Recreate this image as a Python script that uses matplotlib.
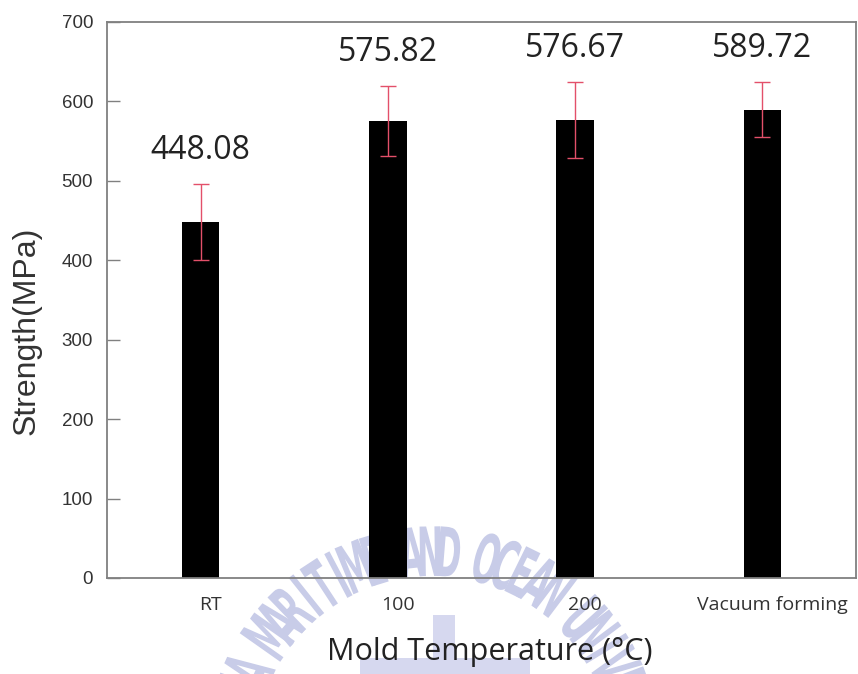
import numpy as np
import matplotlib
matplotlib.use("Agg")
import matplotlib.pyplot as plt
from matplotlib.font_manager import FontProperties
from matplotlib.patches import PathPatch, Rectangle
from matplotlib.textpath import TextPath
from matplotlib.transforms import Affine2D, ScaledTranslation

# data
categories = ["RT", "100", "200", "Vacuum forming"]
strength = [448.08, 575.82, 576.67, 589.72]
strength_err = [48, 44, 48, 35]
yticks = [0, 100, 200, 300, 400, 500, 600, 700]

watermark_text = "KOREA MARITIME AND OCEAN UNIVERSITY"
WM_COLOR = "#c8cce8"

W, H = 858, 674
fig = plt.figure(figsize=(W / 100, H / 100), dpi=100)
ax = fig.add_axes([107 / W, (H - 578) / H, (856 - 107) / W, (578 - 22) / H])
ax.patch.set_alpha(0)


def watermark():
    """Faint university seal text drawn behind the plot (pixel geometry)."""
    prop = FontProperties(family="DejaVu Sans", weight="semibold")
    cx, cy, r = 433, H - 754, 203
    for i, ch in enumerate(watermark_text):
        if ch == " ":
            continue
        theta = (i - 16.15) * 5.4
        tp = TextPath((0, 0), ch, size=68, prop=prop)
        bb = tp.get_extents()
        t = np.radians(theta)
        tr = (Affine2D()
              .translate(-(bb.x0 + bb.x1) / 2, -25)
              .scale(0.46, 1.0)
              .rotate_deg(-theta)
              .translate(cx + r * np.sin(t), cy + r * np.cos(t))
              .scale(0.01))
        p = PathPatch(tr.transform_path(tp), transform=fig.dpi_scale_trans,
                      facecolor=WM_COLOR, edgecolor="none", zorder=-5)
        fig.add_artist(p)
    # rough logo blocks under the arc
    for x0, y0, x1, y1 in [(433, 615, 455, 674), (360, 658, 530, 674)]:
        fig.add_artist(Rectangle((x0 / 100, (H - y1) / 100), (x1 - x0) / 100, (y1 - y0) / 100,
                                 transform=fig.dpi_scale_trans, facecolor="#d6d8ef",
                                 edgecolor="none", zorder=-5))


watermark()

x = np.arange(len(categories))
ax.bar(x, strength, width=0.2, color="black", zorder=2)
ax.errorbar(x, strength, yerr=strength_err, fmt="none", ecolor="#e3506a",
            elinewidth=1, capsize=5.5, capthick=1, zorder=3)

for xi, v, e in zip(x, strength, strength_err):
    ax.annotate(f"{v:.2f}", (xi, v + e), xytext=(0, 24), textcoords="offset points",
                ha="center", va="center", fontsize=23, family="Open Sans", color="#222222")

ax.set_xlim(-0.5, 3.5)
ax.set_ylim(0, 700)
ax.set_yticks(yticks)
ax.set_xticks(x, categories)

ax.tick_params(axis="y", direction="in", length=9, width=1, color="#808080",
               pad=10, labelsize=13.5, labelcolor="#333333")
ax.tick_params(axis="x", length=0, pad=13, labelsize=14, labelcolor="#333333")
for lab in ax.get_yticklabels():
    lab.set_fontfamily("Liberation Sans")
shift = ScaledTranslation(0.1, 0, fig.dpi_scale_trans)
for lab in ax.get_xticklabels():
    lab.set_fontfamily("Open Sans")
    lab.set_transform(lab.get_transform() + shift)

for s in ax.spines.values():
    s.set_color("#808080")
    s.set_linewidth(1.3)

ax.set_ylabel("Strength(MPa)", fontsize=23, family="Liberation Sans", color="#333333", va="center")
ax.yaxis.set_label_coords(-0.107, 0.444)
ax.set_xlabel("Mold Temperature (°C)", fontsize=22, family="Open Sans", color="#222222", va="center")
ax.xaxis.set_label_coords(0.511, -0.133)

fig.savefig("out.png", dpi=100, facecolor="white")
